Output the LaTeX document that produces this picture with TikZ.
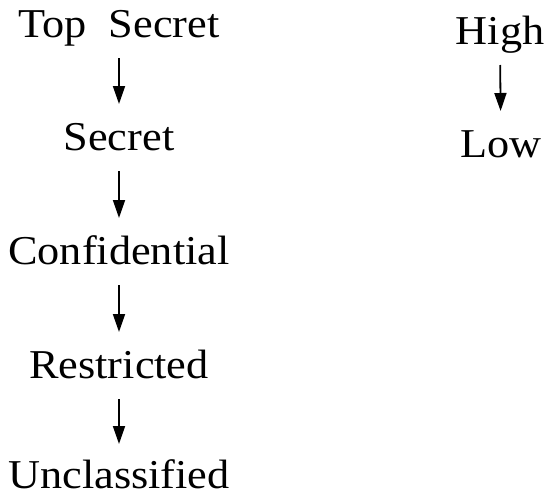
\documentclass[tikz,border=0pt]{standalone}
\usepackage{fontspec}
\setmainfont[FakeStretch=1.08]{Liberation Serif}
\usetikzlibrary{arrows.meta}

\tikzset{
  lvl/.style={anchor=base, inner sep=0pt, font=\fontsize{41}{48}\selectfont},
  down/.style={-{Triangle[length=18pt,width=12pt]}, line width=1.8pt,
    shorten <=21pt, shorten >=46pt}
}

\begin{document}
\begin{tikzpicture}[x=1pt,y=-1pt]
\useasboundingbox (0,0) rectangle (546,493);
% classification levels
\node[lvl] (topsecret) at (119,37) {Top\ \ Secret};
\node[lvl] (secret) at (119,150) {Secret};
\node[lvl] (confidential) at (119,264) {Confidential};
\node[lvl] (restricted) at (119,378) {Restricted};
\node[lvl] (unclassified) at (119,488) {Unclassified};
\draw[down] (topsecret.base) -- (secret.base);
\draw[down] (secret.base) -- (confidential.base);
\draw[down] (confidential.base) -- (restricted.base);
\draw[down, shorten >=44pt] (restricted.base) -- (unclassified.base);
% high / low
\node[lvl] (high) at (500,44) {High};
\node[lvl] (low) at (501,157) {Low};
\draw[down] (high.base) -- (low.base);
\end{tikzpicture}
\end{document}
